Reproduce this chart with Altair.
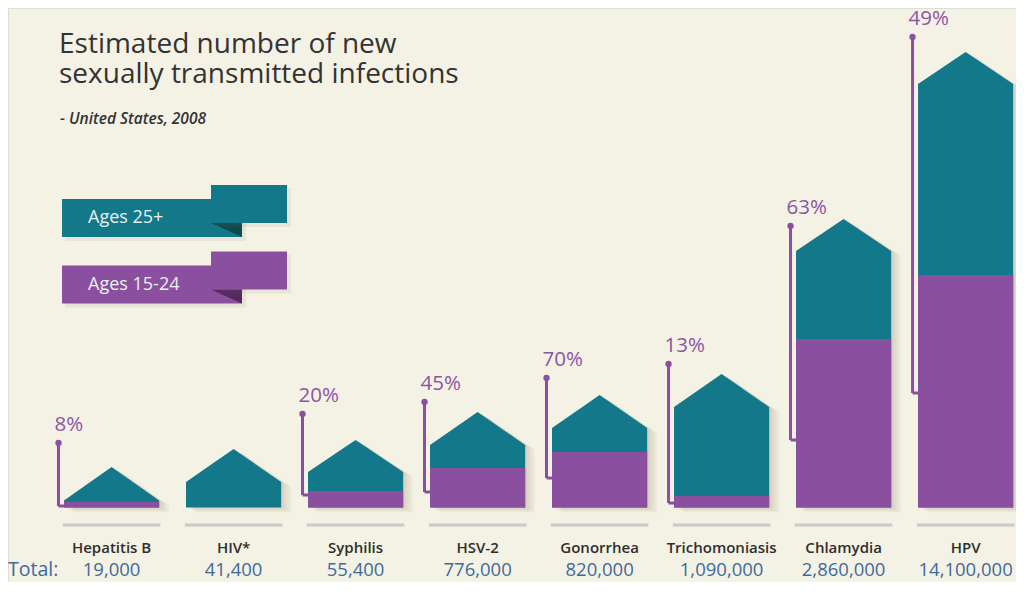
import altair as alt
import pandas as pd

categories = ["Hepatitis B", "HIV*", "Syphilis", "HSV-2", "Gonorrhea",
              "Trichomoniasis", "Chlamydia", "HPV"]
totals = ["19,000", "41,400", "55,400", "776,000", "820,000",
          "1,090,000", "2,860,000", "14,100,000"]
share_15_24 = ["8%", "", "20%", "45%", "70%", "13%", "63%", "49%"]

# visual heights of the "house" glyphs above the baseline (infographic units)
purple_h = [5.5, 0, 16.5, 39.5, 55.5, 11.5, 168.5, 232.5]
eave_h = [7, 25.5, 35.5, 62.5, 79.5, 100.5, 256.5, 423.5]
peak_h = [40.5, 58.5, 67.5, 95.5, 112.5, 133.5, 288.5, 455.5]
bracket_top = [64.5, None, 93.5, 105.5, 129.5, 143.5, 281.5, 470.5]
bracket_bottom = [1.5, None, 12.5, 15.5, 29.5, 4.5, 67.5, 114.5]

series_names = ["Ages 25+", "Ages 15-24"]
series_colors = ["#13788a", "#8b4f9f"]
series_dark = ["#0b4b52", "#55285f"]

title_lines = ["Estimated number of new", "sexually transmitted infections"]
subtitle_text = "- United States, 2008"

TEAL, PURPLE = series_colors
PCT_COLOR = "#8d55a4"
TOTAL_COLOR = "#3f6a9c"
FONT = "Open Sans"

# ---------------- tables ----------------
HW = 0.39   # half-width of a house in slot units
BO = 0.435  # bracket offset from slot centre
W, H = 1008, 574

rows = []
for i, c in enumerate(categories):
    rows.append(dict(cat=c, i=i, xl=i - HW, xr=i + HW, total=totals[i],
                     pct=share_15_24[i], purple=purple_h[i],
                     bt=bracket_top[i], bb=bracket_bottom[i], bx=i - BO,
                     gl=i - 0.4, gr=i + 0.4, zero=0.0, gy=-17.5,
                     ly=-40.5, ty=-68.5))
df = pd.DataFrame(rows)

roof_rows = []
for i, c in enumerate(categories):
    for dx, h in [(-HW, eave_h[i]), (0, peak_h[i]), (HW, eave_h[i])]:
        roof_rows.append(dict(cat=c, x=i + dx, y=h, y0=0.0))
roof = pd.DataFrame(roof_rows)

shadow_rows = []
for k, off in enumerate([2, 4, 6, 8, 10]):
    for r in roof_rows:
        shadow_rows.append(dict(cat=r["cat"] + str(k), x=r["x"] + off / 122.0,
                                y=r["y"] - off * 0.5, y0=-off * 0.5))
shadow = pd.DataFrame(shadow_rows)

brk = df[df["pct"] != ""].copy()
pur = df[df["purple"] > 0].copy()

xs = alt.Scale(domain=[-0.849, 7.413], nice=False, zero=False)
ys = alt.Scale(domain=[-(H - 499.5), 499.5], nice=False, zero=False)

def X(f, **kw):
    return alt.X(f, scale=xs, axis=None, **kw)

def Y(f, **kw):
    return alt.Y(f, scale=ys, axis=None, **kw)

base = alt.Chart(df)

shadow_layer = alt.Chart(shadow).mark_area(color="#6b6650", opacity=0.045).encode(
    x=X("x:Q"), y=Y("y:Q"), y2="y0:Q", detail="cat:N")

ground = base.mark_rule(color="#c8cacc", strokeWidth=3).encode(
    x=X("gl:Q"), x2="gr:Q", y=Y("gy:Q"))

houses = alt.Chart(roof).mark_area(color=TEAL, opacity=1).encode(
    x=X("x:Q"), y=Y("y:Q"), y2="y0:Q", detail="cat:N")

purple_bars = alt.Chart(pur).mark_rect(color=PURPLE).encode(
    x=X("xl:Q"), x2="xr:Q", y=Y("purple:Q"), y2="zero:Q")

vert = alt.Chart(brk).mark_rule(color=PURPLE, strokeWidth=3).encode(
    x=X("bx:Q"), y=Y("bb:Q"), y2="bt:Q")
horiz = alt.Chart(brk).mark_rule(color=PURPLE, strokeWidth=3).encode(
    x=X("bx:Q"), x2="xl:Q", y=Y("bb:Q"))
dots = alt.Chart(brk).mark_circle(color=PURPLE, size=40, opacity=1).encode(
    x=X("bx:Q"), y=Y("bt:Q"))
pct = alt.Chart(brk).mark_text(align="left", baseline="middle", dx=-4, dy=-18,
                               font=FONT, fontSize=20.5, color=PCT_COLOR).encode(
    x=X("bx:Q"), y=Y("bt:Q"), text="pct:N")

cat_labels = base.mark_text(font=FONT, fontSize=15, fontWeight=600,
                            color="#2e2e2e", baseline="middle").encode(
    x=X("i:Q"), y=Y("ly:Q"), text="cat:N")
total_labels = base.mark_text(font=FONT, fontSize=18.5, color=TOTAL_COLOR,
                              baseline="alphabetic").encode(
    x=X("i:Q"), y=Y("ty:Q"), text="total:N")
total_word = alt.Chart(pd.DataFrame({"t": ["Total:"]})).mark_text(
    font=FONT, fontSize=19.5, color=TOTAL_COLOR, align="left", baseline="alphabetic").encode(
    x=alt.value(0), y=alt.value(568), text="t:N")

# ---------------- title ----------------
title = alt.Chart(pd.DataFrame({"a": [0]})).mark_text(
    font=FONT, fontSize=28, color="#333333", align="left", baseline="alphabetic",
    lineHeight=30).encode(x=alt.value(51), y=alt.value(45), text=alt.value(title_lines))
subtitle = alt.Chart(pd.DataFrame({"t": [subtitle_text]})).mark_text(
    font=FONT, fontSize=15.5, fontStyle="italic", fontWeight=600, color="#333333",
    align="left", baseline="alphabetic").encode(x=alt.value(52), y=alt.value(116), text="t:N")

# ---------------- legend ribbons ----------------
leg_layers = []
for k, (name, col, dark) in enumerate(zip(series_names, series_colors, series_dark)):
    oy = 0 if k == 0 else 66.5
    one = alt.Chart(pd.DataFrame({"t": [name]}))
    leg_layers.append(one.mark_rect(color="#77735a", opacity=0.10).encode(
        x=alt.value(57), x2=alt.value(238), y=alt.value(194 + oy), y2=alt.value(233 + oy)))
    leg_layers.append(one.mark_rect(color=col).encode(
        x=alt.value(54), x2=alt.value(234), y=alt.value(191 + oy), y2=alt.value(229 + oy)))
    leg_layers.append(one.mark_point(shape="M-1,-0.45L1,-0.45L1,0.45Z", filled=True,
                                     color=dark, size=961, opacity=1, strokeWidth=0).encode(
        x=alt.value(218.5), y=alt.value(222 + oy)))
    leg_layers.append(one.mark_rect(color="#77735a", opacity=0.10).encode(
        x=alt.value(206), x2=alt.value(283), y=alt.value(180 + oy), y2=alt.value(219 + oy)))
    leg_layers.append(one.mark_rect(color=col).encode(
        x=alt.value(203), x2=alt.value(279), y=alt.value(177 + oy), y2=alt.value(215 + oy)))
    leg_layers.append(one.mark_text(font=FONT, fontSize=18, color="#e9f1f0", align="left",
                                    baseline="middle").encode(
        x=alt.value(80), y=alt.value(210 + oy), text="t:N"))

chart = alt.layer(
    shadow_layer, ground, houses, purple_bars, vert, horiz, dots, pct,
    cat_labels, total_labels, total_word, title, subtitle, *leg_layers
).properties(
    width=W, height=H, padding=0, autosize=alt.AutoSizeParams(type="none")
).configure_view(stroke=None).configure(background="#f4f2e4")

chart.save("out.html", embed_options={"renderer": "svg", "actions": False})
